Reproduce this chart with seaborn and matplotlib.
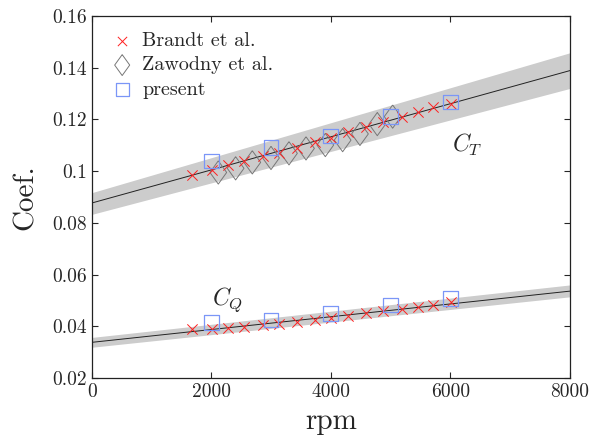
import matplotlib
matplotlib.use("Agg")
import matplotlib.pyplot as plt
import seaborn as sns
import pandas as pd

# ---- data ----
brandt_rpm = [1668, 2014, 2271, 2544, 2867, 3135, 3425, 3732, 3995, 4279, 4586, 4865, 5183, 5462, 5713, 6003]
brandt_ct = [0.0985, 0.1004, 0.1024, 0.1040, 0.1059, 0.1071, 0.1091, 0.1113, 0.1127, 0.1150, 0.1172, 0.1190, 0.1208, 0.1227, 0.1247, 0.1261]
brandt_cq = [0.0391, 0.0390, 0.0395, 0.0398, 0.0405, 0.0410, 0.0417, 0.0424, 0.0431, 0.0441, 0.0450, 0.0459, 0.0468, 0.0475, 0.0482, 0.0494]

zaw_rpm = [2114, 2404, 2683, 2996, 3297, 3582, 3905, 4195, 4485, 4775, 5032]
zaw_ct = [0.0995, 0.1011, 0.1034, 0.1051, 0.1069, 0.1088, 0.1101, 0.1120, 0.1144, 0.1182, 0.1211]

pres_rpm = [2003, 2996, 3995, 4999, 6003]
pres_ct = [0.1039, 0.1091, 0.1136, 0.1211, 0.1267]
pres_cq = [0.0415, 0.0424, 0.0450, 0.0482, 0.0508]

fit_rpm = [0, 8000]
ct_fit = [0.0877, 0.1389]
ct_lo = [0.0833, 0.1320]
ct_hi = [0.0917, 0.1458]
cq_fit = [0.0338, 0.0536]
cq_lo = [0.0319, 0.0514]
cq_hi = [0.0357, 0.0560]

xticks = [0, 2000, 4000, 6000, 8000]
yticks = [0.02, 0.04, 0.06, 0.08, 0.1, 0.12, 0.14, 0.16]
yticklabels = ["0.02", "0.04", "0.06", "0.08", "0.1", "0.12", "0.14", "0.16"]

# ---- style ----
sns.set_theme(style="ticks")
plt.rcParams["font.family"] = ["cmr10", "DejaVu Serif"]
plt.rcParams["mathtext.fontset"] = "cm"
plt.rcParams["axes.formatter.use_mathtext"] = True

fig = plt.figure(figsize=(6, 4.4), dpi=100)
ax = fig.add_axes([0.1533, 0.1409, 0.7967, 0.8227])

ax.fill_between(fit_rpm, ct_lo, ct_hi, color="#cccccc", lw=0, zorder=1)
ax.fill_between(fit_rpm, cq_lo, cq_hi, color="#cccccc", lw=0, zorder=1)
fit_df = pd.DataFrame({"rpm": fit_rpm + fit_rpm, "val": ct_fit + cq_fit,
                       "s": ["CT", "CT", "CQ", "CQ"]})
for s in ["CT", "CQ"]:
    d = fit_df[fit_df.s == s]
    sns.lineplot(data=d, x="rpm", y="val", ax=ax, color="#222222", lw=0.7, zorder=2)

diamond = [(0, 1), (0.72, 0), (0, -1), (-0.72, 0), (0, 1)]

sns.scatterplot(x=brandt_rpm, y=brandt_ct, ax=ax, marker="x", s=55, color="#ff2020",
                linewidth=0.7, zorder=4, label="Brandt et al.")
sns.scatterplot(x=brandt_rpm, y=brandt_cq, ax=ax, marker="x", s=55, color="#ff2020",
                linewidth=0.7, zorder=4)
sns.scatterplot(x=zaw_rpm, y=zaw_ct, ax=ax, marker=diamond, s=280, facecolor="none",
                edgecolor="#777777", linewidth=0.7, zorder=3, label="Zawodny et al.")
sns.scatterplot(x=pres_rpm, y=pres_ct, ax=ax, marker="s", s=110, facecolor="none",
                edgecolor="#7b96f7", linewidth=0.9, zorder=5, label="present")
sns.scatterplot(x=pres_rpm, y=pres_cq, ax=ax, marker="s", s=110, facecolor="none",
                edgecolor="#7b96f7", linewidth=0.9, zorder=5)

ax.text(6276, 0.1101, r"$C_T$", fontsize=17, ha="center", va="center")
ax.text(2276, 0.0502, r"$C_Q$", fontsize=17, ha="center", va="center")

ax.set_xlim(0, 8000)
ax.set_ylim(0.02, 0.16)
ax.set_xticks(xticks)
ax.set_xticklabels([str(t) for t in xticks])
ax.set_yticks(yticks)
ax.set_yticklabels(yticklabels)
ax.tick_params(direction="in", top=True, right=True, labelsize=14, length=4, width=0.8)
for sp in ax.spines.values():
    sp.set_linewidth(0.9)
    sp.set_color("#222222")
ax.set_xlabel("rpm", fontsize=21, labelpad=6)
ax.set_ylabel("Coef.", fontsize=21, labelpad=10)

leg = ax.legend(loc="upper left", frameon=False, fontsize=14.5, handletextpad=0.3,
                borderaxespad=0.4, labelspacing=0.3, handlelength=1.4,
                markerscale=0.9)

fig.savefig("out.png", dpi=100)
